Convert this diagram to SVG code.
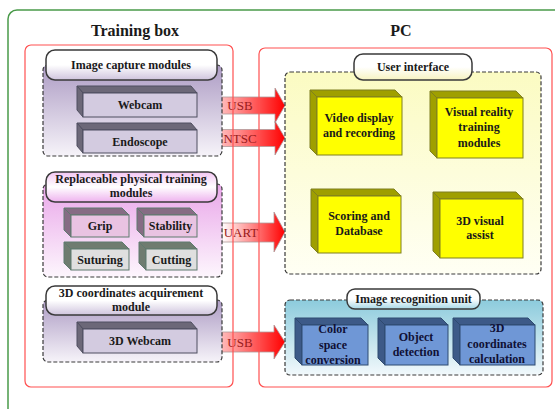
<svg xmlns="http://www.w3.org/2000/svg" width="555" height="409" viewBox="0 0 555 409">
<defs>
<linearGradient id="gArrow" x1="0" y1="0" x2="1" y2="0"><stop offset="0" stop-color="#ffffff"/><stop offset="0.45" stop-color="#ff9090"/><stop offset="1" stop-color="#ff0000"/></linearGradient>
<linearGradient id="gPurple" x1="0" y1="0" x2="0" y2="1"><stop offset="0" stop-color="#ad9cc4"/><stop offset="1" stop-color="#f6f3f9"/></linearGradient>
<linearGradient id="gPink" x1="0" y1="0" x2="0" y2="1"><stop offset="0" stop-color="#e9a6e9"/><stop offset="1" stop-color="#fdf6fd"/></linearGradient>
<linearGradient id="gYellow" x1="0" y1="0" x2="0" y2="1"><stop offset="0" stop-color="#fbfbc2"/><stop offset="1" stop-color="#fffff4"/></linearGradient>
<linearGradient id="gBlue" x1="0" y1="0" x2="0" y2="1"><stop offset="0" stop-color="#8ccbdc"/><stop offset="1" stop-color="#f2f9fc"/></linearGradient>
<linearGradient id="pPurple" x1="0" y1="0" x2="0" y2="1"><stop offset="0" stop-color="#ffffff"/><stop offset="0.5" stop-color="#ffffff"/><stop offset="1" stop-color="#cfc4dd"/></linearGradient>
<linearGradient id="pPink" x1="0" y1="0" x2="0" y2="1"><stop offset="0" stop-color="#f3c6f3"/><stop offset="0.5" stop-color="#ffffff"/><stop offset="1" stop-color="#eeb2ee"/></linearGradient>
<linearGradient id="pYellow" x1="0" y1="0" x2="0" y2="1"><stop offset="0" stop-color="#ffffff"/><stop offset="0.5" stop-color="#ffffff"/><stop offset="1" stop-color="#f7f3c0"/></linearGradient>
<linearGradient id="pBlue" x1="0" y1="0" x2="0" y2="1"><stop offset="0" stop-color="#ffffff"/><stop offset="0.5" stop-color="#ffffff"/><stop offset="1" stop-color="#a6d8e6"/></linearGradient>
</defs>
<style>
text{font-family:"Liberation Serif","Times New Roman",serif;font-weight:bold;text-anchor:middle;fill:#1a1a1a}
.title{font-size:16px}
.lbl{font-size:12px}
.arr{font-size:13px;font-weight:normal;fill:#9a1a1a}
.blue{fill:#101035}
.grp{stroke:#3a3a3a;stroke-width:1.2;stroke-dasharray:4 2}
.pill{stroke:#3a3a3a;stroke-width:1.5}
.redbox{fill:none;stroke:#ff5050;stroke-width:1.2}
.arrow{fill:url(#gArrow);stroke:#b09a9a;stroke-width:0.8}
.f,.s{stroke-width:1}
.cam .f{fill:#d3cbe0}.cam .s{fill:#6c6878}.cam .f,.cam .s{stroke:#4f4f60}
.pk .f{fill:#e9c3e2}.pk .s{fill:#866c84}.pk .f,.pk .s{stroke:#5f7a6f}
.gr .f{fill:#dfdfdf}.gr .s{fill:#6f7c70}.gr .f,.gr .s{stroke:#5f7a6f}
.yl .f{fill:#ffff00}.yl .s{fill:#9f9f00}.yl .f,.yl .s{stroke:#7f7f20}
.bl .f{fill:#6f97d6}.bl .s{fill:#3d5a88}.bl .f,.bl .s{stroke:#2f4a70}
</style>
<rect width="555" height="409" fill="#ffffff"/>
<rect x="8" y="10" width="570" height="420" rx="9" fill="none" stroke="#4a9a4a" stroke-width="1.5"/>
<text class="title" x="135" y="36">Training box</text>
<text class="title" x="401" y="36">PC</text>

<g id="connectors">
<path class="arrow" d="M197 97 L275 97 L275 88 L285 105.5 L275 123 L275 114 L197 114 Z"/>
<text class="arr" x="240" y="110">USB</text>
<path class="arrow" d="M197 129.5 L275 129.5 L275 121 L285 138 L275 155 L275 146.5 L197 146.5 Z"/>
<text class="arr" x="240" y="142.5">NTSC</text>
<path class="arrow" d="M222 223 L274 223 L274 212 L285 232 L274 252 L274 242 L222 242 Z"/>
<text class="arr" x="241" y="236.5">UART</text>
<path class="arrow" d="M197 332 L274 332 L274 325 L285 342 L274 359 L274 352 L197 352 Z"/>
<text class="arr" x="240" y="346.5">USB</text>
<path d="M368 345 L380 345" stroke="#ffff00" stroke-width="2.5"/>
<path d="M379 341.5 L385 345 L379 348.5 Z" fill="#ffff00"/>
<path d="M448 343 L455 343" stroke="#ffff00" stroke-width="2.5"/>
<path d="M454 339.5 L460 343 L454 346.5 Z" fill="#ffff00"/>
</g>

<rect id="training-box" class="redbox" x="25" y="45" width="208" height="342" rx="6"/>
<rect id="pc-box" class="redbox" x="259" y="48" width="293" height="339" rx="6"/>

<g id="image-capture-modules">
<rect class="grp" x="43" y="65" width="179" height="91" rx="5" fill="url(#gPurple)"/>
<rect class="pill" x="46" y="50" width="171" height="30" rx="9" fill="url(#pPurple)"/>
<text class="lbl" x="131" y="69">Image capture modules</text>
</g>
<g id="webcam" class="cam">
<path class="s" d="M77 86 L191 86 L197 93 L83 93 Z"/>
<path class="s" d="M77 86 L83 93 L83 117 L77 110 Z"/>
<rect class="f" x="83" y="93" width="114" height="24"/>
<text class="lbl" x="140" y="109">Webcam</text>
</g>
<g id="endoscope" class="cam">
<path class="s" d="M77 123 L191 123 L197 130 L83 130 Z"/>
<path class="s" d="M77 123 L83 130 L83 153 L77 146 Z"/>
<rect class="f" x="83" y="130" width="114" height="23"/>
<text class="lbl" x="140" y="145.5">Endoscope</text>
</g>

<g id="replaceable-modules">
<rect class="grp" x="43" y="184" width="179" height="93" rx="5" fill="url(#gPink)"/>
<rect class="pill" x="46" y="172" width="171" height="30" rx="9" fill="url(#pPink)"/>
<text class="lbl" x="131" y="183">Replaceable physical training</text>
<text class="lbl" x="131" y="197">modules</text>
</g>
<g id="grip" class="pk">
<path class="s" d="M64 208 L122 208 L129 215 L71 215 Z"/>
<path class="s" d="M64 208 L71 215 L71 237 L64 230 Z"/>
<rect class="f" x="71" y="215" width="58" height="22"/>
<text class="lbl" x="100" y="230">Grip</text>
</g>
<g id="stability" class="pk">
<path class="s" d="M137 208 L190 208 L197 215 L144 215 Z"/>
<path class="s" d="M137 208 L144 215 L144 237 L137 230 Z"/>
<rect class="f" x="144" y="215" width="53" height="22"/>
<text class="lbl" x="170.5" y="230">Stability</text>
</g>
<g id="suturing" class="gr">
<path class="s" d="M64 242 L122 242 L129 249 L71 249 Z"/>
<path class="s" d="M64 242 L71 249 L71 270 L64 263 Z"/>
<rect class="f" x="71" y="249" width="58" height="21"/>
<text class="lbl" x="100" y="263.5">Suturing</text>
</g>
<g id="cutting" class="gr">
<path class="s" d="M139 242 L190 242 L197 249 L146 249 Z"/>
<path class="s" d="M139 242 L146 249 L146 270 L139 263 Z"/>
<rect class="f" x="146" y="249" width="51" height="21"/>
<text class="lbl" x="171.5" y="263.5">Cutting</text>
</g>

<g id="coordinates-module">
<rect class="grp" x="43" y="300" width="179" height="62" rx="5" fill="url(#gPurple)"/>
<rect class="pill" x="46" y="286" width="171" height="29" rx="9" fill="url(#pPurple)"/>
<text class="lbl" x="131" y="297">3D coordinates acquirement</text>
<text class="lbl" x="131" y="311">module</text>
</g>
<g id="webcam-3d" class="cam">
<path class="s" d="M77 322 L191 322 L197 329 L83 329 Z"/>
<path class="s" d="M77 322 L83 329 L83 353 L77 346 Z"/>
<rect class="f" x="83" y="329" width="114" height="24"/>
<text class="lbl" x="140" y="345">3D Webcam</text>
</g>

<g id="user-interface">
<rect class="grp" x="285" y="72" width="256" height="202" rx="5" fill="url(#gYellow)"/>
<rect class="pill" x="354" y="54" width="118" height="26" rx="9" fill="url(#pYellow)"/>
<text class="lbl" x="413" y="71">User interface</text>
</g>
<g id="video-display" class="yl">
<path class="s" d="M310 90 L395 90 L402 97 L317 97 Z"/>
<path class="s" d="M310 90 L317 97 L317 155 L310 148 Z"/>
<rect class="f" x="317" y="97" width="85" height="58"/>
<text class="lbl" x="359" y="122">Video display</text>
<text class="lbl" x="359" y="137">and recording</text>
</g>
<g id="visual-reality" class="yl">
<path class="s" d="M430 91 L516 91 L523 98 L437 98 Z"/>
<path class="s" d="M430 91 L437 98 L437 158 L430 151 Z"/>
<rect class="f" x="437" y="98" width="86" height="60"/>
<text class="lbl" x="479" y="116">Visual reality</text>
<text class="lbl" x="479" y="131">training</text>
<text class="lbl" x="479" y="147">modules</text>
</g>
<g id="scoring-database" class="yl">
<path class="s" d="M311 189 L394 189 L401 196 L318 196 Z"/>
<path class="s" d="M311 189 L318 196 L318 253 L311 246 Z"/>
<rect class="f" x="318" y="196" width="83" height="57"/>
<text class="lbl" x="359" y="220">Scoring and</text>
<text class="lbl" x="359" y="235">Database</text>
</g>
<g id="visual-assist" class="yl">
<path class="s" d="M433 192 L516 192 L523 199 L440 199 Z"/>
<path class="s" d="M433 192 L440 199 L440 258 L433 251 Z"/>
<rect class="f" x="440" y="199" width="83" height="59"/>
<text class="lbl" x="480" y="225">3D visual</text>
<text class="lbl" x="480" y="239">assist</text>
</g>

<g id="image-recognition-unit">
<rect class="grp" x="285" y="300" width="258" height="75" rx="5" fill="url(#gBlue)"/>
<rect class="pill" x="347" y="289" width="133" height="20" rx="8" fill="url(#pBlue)"/>
<text class="lbl" x="413.5" y="303">Image recognition unit</text>
</g>
<g id="color-space" class="bl">
<path class="s" d="M295 318 L361 318 L368 325 L302 325 Z"/>
<path class="s" d="M295 318 L302 325 L302 365 L295 358 Z"/>
<rect class="f" x="302" y="325" width="66" height="40"/>
<text class="lbl blue" x="333" y="333">Color</text>
<text class="lbl blue" x="333" y="349">space</text>
<text class="lbl blue" x="333" y="364">conversion</text>
</g>
<g id="object-detection" class="bl">
<path class="s" d="M378 318 L441 318 L448 325 L385 325 Z"/>
<path class="s" d="M378 318 L385 325 L385 365 L378 358 Z"/>
<rect class="f" x="385" y="325" width="63" height="40"/>
<text class="lbl blue" x="416" y="341">Object</text>
<text class="lbl blue" x="416" y="356">detection</text>
</g>
<g id="coordinates-calculation" class="bl">
<path class="s" d="M453 318 L528 318 L535 325 L460 325 Z"/>
<path class="s" d="M453 318 L460 325 L460 365 L453 358 Z"/>
<rect class="f" x="460" y="325" width="75" height="40"/>
<text class="lbl blue" x="497" y="332">3D</text>
<text class="lbl blue" x="497" y="348">coordinates</text>
<text class="lbl blue" x="497" y="363">calculation</text>
</g>
</svg>
